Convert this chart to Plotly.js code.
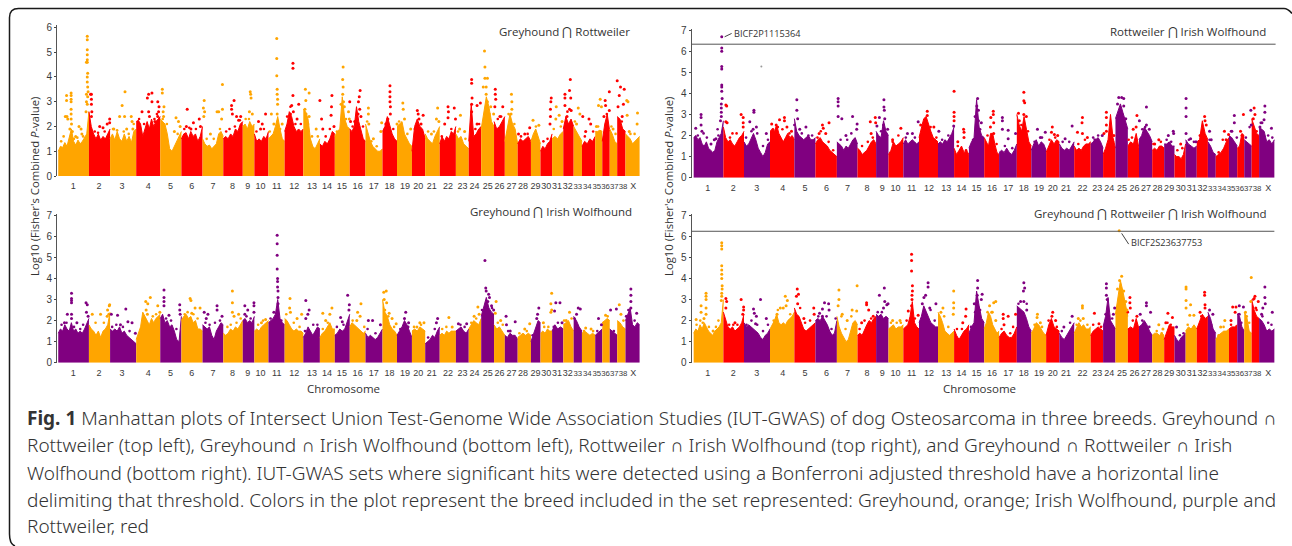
<!DOCTYPE html>
<html><head><meta charset="utf-8">
<script src="https://cdn.plot.ly/plotly-3.0.1.min.js"></script>
<style>html,body{margin:0;padding:0;background:#fff;overflow:hidden}#c{width:1292px;height:546px}</style>
</head><body><div id="c"></div>
<script>
const chromLabels=['1','2','3','4','5','6','7','8','9','10','11','12','13','14','15','16','17','18','19','20','21','22','23','24','25','26','27','28','29','30','31','32','33','34','35','36','37','38','X'];
const edgesL=[140,214,265,328,386,437,488,538,585,613,647,686,731,771,807,843,881,922,957,993,1025,1060,1099,1130,1160,1191,1217,1248,1280,1303,1331,1358,1383,1403,1435,1452,1470,1488,1508,1542];
const edgesR=[118,190,240,303,362,413,465,515,560,590,626,664,710,749,785,822,858,901,936,972,1004,1040,1080,1110,1140,1170,1197,1229,1258,1283,1310,1337,1364,1383,1415,1435,1452,1470,1488,1525];
const labelPosL=[176,238,294,357,411,462,513,560,597,628,667,709,752,788,824,862,901,939,976,1008,1041,1080,1115,1144,1176,1204,1233,1261,1291,1317,1343,1369,1393,1416,1439,1460,1481,1502,1527];
const labelPosR=[152,214,271,334,388,440,491,538,575,607,646,688,730,767,803,841,880,918,955,988,1020,1060,1096,1125,1156,1186,1214,1242,1270,1298,1325,1351,1375,1398,1420,1441,1462,1483,1510];
const envTL=[[1,1.2,1.15,1.35,1.2,1.6,1.9,1.4,1.25,1.45,1.3,1.4,1.55,1.7,2.6],[2.6,2,1.7,1.5,1.7,1.45,1.6,1.5,1.7,1.9],[1.5,1.7,1.45,1.8,1.5,1.4,1.7,1.4,1.6,1.35,1.8,1.9],[2.2,2.25,2.1,1.6,1.9,2.2,1.9,2.3,2,2.2,2.3,2.4],[2.3,2.2,2.1,1.7,1.1,1,1.2,1.4,1.6,1.8],[1.5,1.7,1.75,1.5,1.8,1.6,1.7,1.4,1.6,2],[1.5,1.3,1.2,1.25,1.1,1.2,1.3,1.7,1.8,1.6],[1.5,1.6,1.5,1.7,1.6,1.9,1.8,2.1,2.2],[2,2.1,1.9,2.2,2,2.1],[1.7,1.4,1.5,1.4,1.6,1.5,1.8],[1.5,1.6,1.7,2,2.4,1.9,1.5,1.4],[1.8,2.1,2.6,2.4,2,1.8,1.9,1.8,1.9],[2.7,2.6,2.3,1.5,1.2,1.1,1.3,1.5],[1.3,1.2,1.4,1.3,1.5,1.8,1.7],[1.6,1.8,1.9,3.2,2.3,2,1.9],[1.9,1.8,2,2.8,2.2,1.9,1.5,1.4],[2.1,1.7,1.4,1.2,1.1,1,1,1.1],[1.8,2,2.4,2,1.7,1.5,1.4],[2,2.1,2.2,1.7,1.5,1.3,1.2],[1,2,2.3,2,1.9,1.5],[1.7,1.5,1.4,1.3,1.6,1.8,2],[1.3,1.6,1.4,1.6,1.5,1.8,1.7,2],[1.7,1.5,1.6,1.3,1.2,1.1],[1.4,2.9,1.6,1.7,1.9,2],[1.9,2.5,3.2,2.8,2.2,2],[2.2,1.9,2,2.2,2.4],[1.4,1.9,2.5,2.1,1.9,1.3],[1.3,1.5,1.4,1.5,1.6,1.4],[1.4,1.7,1.9,1.6,1.3],[1,1.2,1.1,1.3,1.4,1.7],[1.5,1.6,1.5,1.7,1.8],[1.9,2.4,2.1,2.3,2],[2,1.8,1.6,1.4],[1.2,1.4,1.3,1.5,1.4,1.6],[1.8,1.8,1.85,1.8],[1.4,2.1,2.5,1.8],[1.9,1.7,1.4,1.3],[2.4,2.3,1.9,1.8],[1.7,1.6,1.5,1.3,1.4,1.5,1.6]];
const envBL=[[1.4,1.6,1.5,1.8,1.6,1.5,1.9,1.5,1.6,1.4,1.5,1.4,1.6,1.9,2.1],[1.8,1.6,1.5,1.3,1.5,1.2,1.5,1.6,1.8,2.4],[1.6,1.5,1.6,1.5,1.7,1.4,1.5,1.3,1.2,1.1,1,.9],[1.1,1.4,1.7,2.4,2.2,2,1.8,2.1,1.9,2.1,2.2,2.3],[2.1,2.3,1.9,2,1.7,1.8,1.5,1.1,1,2.2],[2,2.2,2.3,2.1,2.2,1.9,2,1.6,1.6,1.5],[1.8,1.7,1.6,1.7,1.3,1.1,1.5,1.7,1.9,1.8],[1.4,1.3,1.4,1.6,1.5,1.7,1.6,1.8,2],[2,2.1,1.9,2,1.9,2.2],[1.5,1.6,1.5,1.7,1.8,1.9,2],[1.9,2,2.1,2.3,3,2.1,1.9,1.8],[2.1,2,1.8,1.6,1.5,1.6,1.5,1.5,1.4],[1.2,1.4,1.7,1.5,1.3,1.5,1.7,1.6],[1.2,1.4,1.5,1.7,1.9,1.6,1.6],[1.3,1.4,1.6,1.5,1.6,2,2.3],[1.7,1.9,1.8,1.7,1.6,1.5,1.4,1.5],[1.4,1.2,1.3,1.2,1.1,1.2,1.4,1.6],[3,2.4,2.2,1.8,1.6,1.5,1.3],[1.3,1.5,1.7,2,1.8,1.5,1.2],[1.5,1.6,1.5,1.7,1.6,1.5],[.9,1,1.1,1.3,1.2,1.5,1.7],[1.3,1.4,1.3,1.5,1.4,1.5,1.5,1.5],[1.5,1.6,1.7,1.5,1.4,1.6],[1.6,1.8,2,1.9,1.8,2.1],[2.2,2.7,3.1,2.6,2.4,2.3],[1.8,1.6,1.7,1.5,1.3],[1.3,1.2,1.4,1.3,1.3,1.1],[1.2,1.3,1.4,1.3,1.4,1.3],[1,1.3,1.6,2,1.9],[1.4,1.5,1.4,1.6,1.5,1.5],[1.5,1.8,1.6,1.7,1.6],[1.8,1.9,2,1.7,1.5],[2.2,2,1.7,1.5],[1.4,1.5,1.4,1.3,1.4,1.3],[1.3,1.4,1.5,1.6],[1.9,2,2.1,2],[1.6,1.5,1.4,1.3],[2,1.9,1.7,1.6],[2,2.3,2.6,1.8,1.7,1.9,1.8]];
const envTR=[[1.9,2,1.8,1.9,1.6,1.5,1.7,1.4,1.3,1.2,1.3,1.7,1.9,2.1,2.7],[2.4,1.9,1.7,1.8,1.6,1.5,1.7,1.9,2,2.2],[1.7,1.5,1.6,1.9,2.1,1.8,1.4,1.2,1,1.2,1.6,1.7],[2.2,2.3,2.2,2.5,2.1,1.9,1.7,1.9,2.1,1.9,2,1.8],[2.8,2.2,2,1.9,1.8,1.9,2,1.8,1.8,1.9],[1.6,1.8,1.9,1.7,1.6,1.5,1.3,1.2,1.1,1],[1.7,1.6,1.5,1.3,1.5,1.4,1.6,1.8,1.9,1.6],[1.4,1.3,1.1,1.2,1.3,1.5,1.7,1.8,1.6],[2.2,2,1.9,2.7,2.2,2],[1.1,1.3,1.7,1.5,1.6,1.7,1.9],[1.6,1.8,1.6,1.7,1.8,1.7,1.6,1.7],[1.9,2.3,2.8,2.9,2.5,2.2,1.9,1.8,1.7],[1.6,1.7,1.6,1.8,1.7,1.9,2.1,2.4],[1.4,1.1,1.3,1.5,1.2,1.3,1.1],[1.4,1.7,1.9,3.7,2.4,2,1.9],[1.9,1.7,1.5,2.1,2.1,1.6,1.2,1.1],[1.2,1.3,1.2,1.4,1.2,1.1,1.3,1.6],[3,2.5,2.2,2.9,2.3,1.7,1.5],[1.3,1.6,1.8,1.5,1.7,1.6,1.3],[1.2,1.5,1.8,1.6,1.8,1.7],[1.6,1.4,1.3,1.4,1.3,1.5,1.7],[1.5,1.3,1.4,1.3,1.5,1.6,1.6,1.7],[1.6,1.7,1.8,1.9,1.7,1.4],[1.1,1.4,1.8,3,1.9,1.4],[2.8,3.2,3.5,3.1,2.7,2.3],[1.5,1.7,1.6,2.1,1.4],[1.8,2,2.4,2.2,2,1.7],[1.3,1.4,1.3,1.5,1.5,1.4],[1.6,1.6,1.7,1.5,1.5],[1.1,1,1,.9,1.1,1.6],[1.8,1.6,1.5,1.4,1.5],[1.7,1.8,2.7,2.1,1.8],[1.7,1.5,1.2,1.1],[1,1.1,1.2,1.4,1.7,1.9],[2,1.9,1.7,1.5],[1.4,1.5,2.1,2],[1.8,1.7,1.6,1.5],[2.8,2.4,2.1,2],[2.4,2.3,2.2,1.7,1.8,1.6,1.8]];
const envBR=[[1.4,1.6,1.5,1.8,1.6,1.9,1.7,1.5,1.4,1.3,1.5,1.6,1.7,1.9,3],[2.4,2,1.7,1.6,1.7,1.5,1.6,1.7,1.9,2.3],[1.9,1.7,1.8,1.7,1.6,1.5,1.4,1.2,1.1,1.3,1.4,1.6],[1.6,1.8,2,2.3,1.9,1.8,1.9,1.8,2,2.1,2.2,2.4],[2.6,2.3,2.2,1.9,1.6,1.5,1.6,1.7,1.8,1.9],[2,2.1,2,2.2,2,1.8,1.5,1.3,1.4,2],[2.2,1.7,1.4,1.2,1,1.1,1.5,1.9,2,1.8],[1.3,1.4,1.3,1.6,1.8,2,1.9,2.1,2.2],[2.3,2.2,2.3,2.1,2.2,2.1],[1.6,1.7,1.8,1.6,1.7,1.7,1.8],[1.6,1.7,1.8,2.2,2.9,1.9,1.7,1.6],[1.9,2.2,2.7,2.4,2.1,1.9,1.8,1.7,1.7],[2.4,2.2,1.9,1.5,1.4,1.3,1.4,1.5],[1.6,1.3,1.1,1.3,1.5,1.6,1.8],[1.4,1.7,1.9,3.4,2.7,2.1,1.9],[1.6,1.9,2.4,2.2,1.8,1.6,1.4,1.5],[1.2,1.4,1.5,1.3,1.2,1.2,1.4,1.7],[2.7,2.6,2.5,2.4,2.1,1.7,1.5],[1.4,1.6,1.9,1.8,1.6,1.4,1.3],[1.3,1.8,2.1,1.7,1.6,1.5],[1.4,1.2,1.1,1.3,1.5,1.7,1.9],[1.4,1.7,1.9,1.7,1.8,1.6,1.6,1.7],[1.3,1.5,1.6,1.7,1.6,1.5],[1.7,2.2,3.1,2,1.8,1.6],[2.3,3,3.9,3.4,2.7,2.2],[1.6,1.7,1.6,2.1,1.6],[1.7,1.8,2,1.8,1.5,1.3],[1.3,1.4,1.4,1.3,1.4,1.3],[1.1,1.5,1.8,1.7,1.7],[1.3,1.1,1,1.2,1.3,1.4],[1.5,1.7,1.6,1.8,1.6],[1.6,2,2.3,2.1,2.2],[2.4,2.1,1.6,1.4],[1.1,1.3,1.4,1.5,1.5,1.6],[1.6,1.7,1.7,1.8],[2.3,2.2,1.7,1.5],[2.4,2.2,1.5,1.4],[3,2.5,2.2,2.1],[2.1,2,1.8,1.5,1.6,1.5,1.6]];
const hitsTL=[[157,2.4],[160,3.25],[160,3.05],[161,2.4],[163,2.3],[168,1.9],[171,3.35],[171,3.25],[171,3.1],[171,3],[171,2.7],[171,2.5],[171,2.3],[172,2.1],[174,1.8],[182,1.6],[190,2],[195,1.9],[197,1.7],[207,2.6],[208,3.3],[208,3],[208,4.6],[210,5.65],[210,5.5],[210,5.1],[210,4.9],[210,4.7],[210,4.6],[211,4.15],[210,4],[210,3.8],[211,3.6],[212,3.4],[211,3.2],[210,2.9],[218,3.3],[220,3.3],[220,3.1],[220,2.9],[221,2.6],[220,2.4],[240,2],[248,1.95],[258,2.1],[264,2.3],[264,2.15],[274,1.9],[288,2.4],[294,2.85],[301,3.4],[300,2.4],[305,1.9],[316,2.4],[318,2.2],[320,1.9],[342,2.6],[355,3.15],[358,3.3],[366,3.35],[366,3],[380,3],[383,2.8],[382,2.6],[358,2.6],[360,2.4],[373,2.2],[380,2.4],[391,3.5],[391,3.35],[395,2.8],[393,2.6],[394,2.4],[424,2.35],[430,2.2],[434,2],[420,1.8],[451,2.7],[449,2],[466,2.15],[480,2.3],[483,2],[460,1.9],[490,2.75],[492,3.05],[493,2.6],[491,2.4],[523,2.6],[527,2.6],[536,2.7],[534,2.3],[507,1.7],[536,3.7],[558,2.85],[558,2.7],[564,3.05],[560,2.5],[570,2.4],[580,2.4],[575,2.25],[603,3.4],[604,3.3],[605,3.15],[601,2.6],[608,2.5],[623,2.2],[632,2.1],[640,2.5],[628,1.9],[667,5.55],[667,4.75],[667,4.05],[668,3.5],[668,3.3],[669,3.1],[669,2.9],[668,2.5],[654,2.5],[660,2.1],[680,2.1],[706,4.55],[706,4.35],[706,3.25],[703,2.85],[720,2.9],[707,2.6],[716,2.3],[700,2.5],[736,3.5],[745,3.35],[737,3.05],[735,2.7],[745,2.4],[742,2.1],[762,1.9],[771,3.05],[775,2.3],[800,3.25],[799,2.8],[798,2.45],[778,1.9],[805,2],[827,4.4],[826,3.9],[827,3.6],[826,3.3],[828,3],[822,2.9],[830,2.8],[843,3],[840,2.6],[842,2.3],[845,2.2],[868,3.45],[866,3.2],[864,3],[867,2.7],[863,2.5],[855,2.2],[870,2.4],[888,2.75],[888,2.5],[889,2.1],[900,1.5],[920,2.15],[918,1.8],[940,3.65],[940,3.4],[940,3.2],[940,3],[941,2.8],[941,2.5],[935,2.3],[957,2.1],[930,2.1],[971,2.95],[972,2.7],[975,2.3],[990,1.9],[1006,2.65],[1008,2.5],[1020,2.45],[1010,2.3],[1015,2.1],[1055,2.75],[1052,2.3],[1058,2.2],[1040,1.7],[1080,2.8],[1081,2.6],[1080,2.35],[1095,2.75],[1098,2.3],[1072,2.1],[1110,2.45],[1120,1.8],[1108,1.9],[1137,3.9],[1137,3.75],[1138,3.15],[1137,2.9],[1137,2.6],[1150,2.85],[1158,2.95],[1150,2.1],[1168,5.05],[1169,4.4],[1169,3.95],[1175,3.95],[1165,3.6],[1172,3.6],[1172,3.3],[1175,3],[1183,2.8],[1190,2.5],[1194,3.5],[1194,3.3],[1195,3.1],[1193,2.8],[1212,2.8],[1205,2.4],[1233,3.3],[1234,3],[1234,2.7],[1232,2.5],[1250,1.7],[1265,1.7],[1277,1.95],[1285,2.25],[1299,2.05],[1329,3.15],[1328,3],[1327,2.7],[1327,2.4],[1326,2.1],[1341,2.8],[1348,2.45],[1340,2.3],[1355,2.2],[1362,3.3],[1362,3.15],[1362,2.85],[1375,3.9],[1373,3.45],[1376,3.15],[1373,2.7],[1377,2.65],[1367,2.4],[1394,2.75],[1398,2.5],[1390,2.1],[1405,2.4],[1420,2.3],[1424,2.1],[1412,1.8],[1447,3.1],[1443,2.85],[1450,2.8],[1438,2],[1459,3.05],[1460,2.85],[1469,3.4],[1469,2.65],[1456,2.4],[1478,1.9],[1488,3.85],[1493,3.25],[1496,3.6],[1505,3.5],[1503,2.9],[1490,2.8],[1500,2.4],[1511,3.05],[1514,3],[1512,2.45],[1537,2.55],[1536,2.1],[1517,1.8]];
const hitsBL=[[155,1.9],[162,2.3],[172,3.3],[172,3.05],[172,2.95],[172,2.85],[172,2.3],[172,2.1],[185,1.9],[207,2.85],[210,2.75],[208,2.4],[212,2.2],[222,2.3],[242,2.3],[259,2.5],[264,2.75],[263,2.7],[262,2.3],[258,2.2],[283,2.25],[268,2.3],[303,2.55],[308,1.95],[318,1.9],[290,1.8],[326,1.4],[351,2.9],[356,2.8],[362,3.1],[352,2.5],[380,2.7],[385,2.4],[355,2.3],[395,3.45],[395,3.1],[395,2.9],[395,2.7],[407,2.25],[433,2.75],[433,2.5],[434,2.3],[458,3.05],[460,2.95],[470,2.6],[482,2.6],[462,2.35],[492,2.4],[501,2.3],[523,2.7],[523,2.5],[535,2.2],[497,2.1],[560,3.4],[560,2.85],[560,2.4],[575,2.3],[564,2.2],[590,2.7],[597,2.5],[612,2.85],[612,2.7],[612,2.4],[590,2.3],[640,2.05],[630,1.9],[668,6.05],[668,5.65],[668,5.1],[668,4.45],[669,4],[669,3.85],[669,3.6],[670,3.4],[670,3.1],[670,2.8],[669,2.5],[660,2.4],[660,2],[699,3.05],[698,2.6],[700,2.4],[716,2.1],[727,2.3],[737,2.95],[745,2.5],[742,2.3],[737,2.1],[778,2.35],[800,2.6],[795,2.3],[785,2],[821,2.15],[838,3.2],[842,2.75],[841,2.5],[825,1.95],[870,2.8],[862,2.4],[868,2.2],[860,2],[888,2],[898,2],[917,1.8],[925,3.35],[931,3.4],[926,3],[932,2.85],[938,2.35],[945,2.1],[955,1.85],[978,2.4],[975,2.1],[985,1.9],[1012,1.9],[1022,1.9],[1005,1.7],[1055,2.1],[1052,1.9],[1082,2.15],[1090,1.7],[1105,1.85],[1125,1.85],[1152,2.65],[1143,2.2],[1155,2.3],[1169,4.85],[1171,3.55],[1172,3.4],[1178,3.25],[1180,3.1],[1176,2.9],[1185,2.7],[1190,2.5],[1196,2.9],[1194,2.35],[1207,2],[1220,2.2],[1221,1.8],[1242,1.95],[1230,1.5],[1277,1.85],[1265,1.6],[1299,2.6],[1296,2.3],[1294,2.1],[1330,3.3],[1328,2.8],[1330,2.5],[1328,2.4],[1310,1.9],[1340,2.85],[1350,2.85],[1337,2.45],[1355,1.9],[1373,2.4],[1365,2],[1394,2.6],[1399,2.55],[1390,2.3],[1412,1.65],[1425,1.6],[1443,2.1],[1450,1.8],[1472,2.5],[1460,2.25],[1486,2.55],[1493,2.75],[1497,2.3],[1521,3.5],[1521,3.2],[1521,2.9],[1521,2.6],[1535,2.35],[1510,2.2]];
const hitsTR=[[123,2.35],[136,3],[136,2.85],[136,2.5],[138,2.2],[160,1.6],[168,1.8],[172,1.85],[186,6.68],[186,6.15],[186,6],[186,5.27],[186,5.15],[186,4.4],[186,4.3],[186,4.1],[187,3.75],[185,3.5],[185,3.3],[185,3.1],[185,2.9],[183,2.7],[196,3.45],[198,3.4],[196,2.65],[199,2.6],[233,3],[238,2.85],[238,2.6],[238,2.4],[254,2.65],[264,3.2],[264,3.1],[270,2.4],[262,2.3],[294,2.1],[307,2.55],[318,2.5],[326,2.75],[338,2.85],[338,2.7],[344,2.4],[355,2.2],[368,3.7],[368,3.2],[370,2.8],[390,2.4],[375,2.3],[430,2.5],[432,2.35],[446,2.6],[422,2.1],[438,2.1],[468,3.75],[468,3.6],[468,3.4],[468,2.9],[477,2.8],[503,2.9],[514,2.55],[513,2.3],[487,2],[546,2.65],[548,2.1],[558,2.85],[559,2.6],[562,2.45],[568,2.85],[579,3.7],[579,3.35],[580,3.2],[581,2.8],[578,2.5],[588,2.3],[620,2.35],[600,1.8],[636,2.1],[648,2.1],[662,2.65],[684,3.15],[684,2.95],[700,2.4],[712,2.2],[668,2.5],[749,4.1],[749,3.1],[749,2.9],[749,2.7],[748,2.45],[772,2.3],[773,2.15],[773,1.9],[758,1.7],[806,3.75],[804,3.4],[808,3.2],[800,2.9],[808,2.7],[815,2.6],[844,3.15],[844,3],[838,2.85],[845,2.6],[837,2.4],[845,2.1],[866,2.85],[866,2.7],[880,2.25],[866,2.3],[880,1.85],[898,2.1],[918,4.05],[918,3.65],[920,3.55],[905,3.05],[918,3],[924,2.9],[907,2.7],[951,2.3],[970,2.15],[958,1.9],[987,2.4],[985,2.15],[992,2.05],[1000,2],[1035,2.45],[1018,1.85],[1060,2.85],[1059,2.6],[1048,2.15],[1060,2.1],[1072,1.9],[1108,2],[1090,1.8],[1118,3.1],[1118,2.85],[1118,2.5],[1118,2.2],[1112,2.1],[1136,2],[1148,3.8],[1155,3.8],[1160,3.75],[1145,3.5],[1160,3.4],[1150,3.1],[1165,2.8],[1192,2.95],[1190,2.4],[1183,2.3],[1198,2.7],[1215,3.35],[1215,2.5],[1222,2.3],[1245,1.8],[1235,1.6],[1280,2.2],[1281,2.1],[1268,2],[1311,3.75],[1311,3.3],[1311,2.9],[1311,2.1],[1298,1.6],[1322,1.85],[1335,1.7],[1356,2.9],[1357,2.7],[1360,2.5],[1345,2],[1368,2.2],[1372,1.8],[1404,2.2],[1414,2.05],[1408,1.8],[1428,2.95],[1428,2.6],[1422,2.2],[1450,3],[1443,2.2],[1468,3.2],[1469,2.5],[1476,3.3],[1478,3],[1474,2.8],[1502,3.4],[1502,3.1],[1500,2.75],[1495,2.6],[1518,2.35],[1490,2.4]];
const hitsBR=[[124,2.05],[136,2.7],[136,2.4],[148,3.3],[148,3.15],[148,3],[148,2.6],[148,2.3],[143,2.1],[165,1.5],[186,5.7],[186,5.55],[186,5.4],[186,4.6],[186,4.4],[186,4.2],[186,4],[187,3.65],[187,3.5],[186,3.3],[186,3.15],[185,2.95],[196,3.05],[198,2.9],[196,2.6],[233,3],[239,2.65],[239,2.5],[237,2.3],[218,1.9],[280,3],[263,2.55],[265,2.35],[270,2.2],[294,2.1],[268,1.85],[340,3.15],[345,2.95],[328,2.6],[335,2.6],[342,2.7],[320,2.3],[369,3.5],[372,3.25],[367,3.15],[370,2.8],[409,2.6],[410,2.3],[385,2.1],[435,2.85],[445,2.8],[430,2.55],[446,2.5],[423,2.35],[430,2.2],[470,3.45],[470,3],[468,2.7],[478,2.3],[514,3.65],[502,2.5],[513,2.45],[490,2],[537,2.85],[537,2.75],[542,2.5],[525,1.9],[553,2.2],[568,3.2],[580,3.55],[581,2.9],[586,2.75],[578,2.6],[589,2.8],[600,2],[618,2],[646,5.15],[646,4.85],[646,4.35],[648,3.65],[648,3.4],[647,3.2],[647,3],[646,2.7],[638,2.45],[662,2.25],[686,3.8],[686,3.6],[680,3.2],[676,3.1],[672,2.8],[705,2.8],[690,2.6],[748,3.4],[748,2.85],[748,2.6],[722,2.6],[717,2.4],[747,2.3],[778,2.55],[777,2.2],[770,1.9],[806,3.9],[806,3.55],[805,3.2],[817,3.25],[815,3],[798,2.8],[808,2.6],[835,2.7],[845,2.85],[850,2.9],[840,2.4],[850,2],[868,2.3],[880,2.2],[868,2.1],[898,2.3],[870,1.8],[918,3.8],[920,3.55],[917,3.4],[910,2.9],[918,2.9],[925,2.5],[951,2.3],[950,2.15],[958,1.9],[988,2.4],[986,2.2],[995,2],[1035,2.2],[1015,1.7],[1060,2.7],[1060,2.6],[1050,2.1],[1062,2.1],[1089,2.35],[1100,1.85],[1118,3.75],[1118,3.55],[1118,3.2],[1120,3],[1138,2.6],[1135,2.3],[1149,6.27],[1155,4.1],[1150,3.9],[1145,3.5],[1160,3.4],[1165,2.9],[1168,2.5],[1175,3.1],[1175,2.85],[1176,2.6],[1192,2.2],[1215,2.85],[1215,2.7],[1225,2.4],[1200,2.3],[1245,1.8],[1255,1.6],[1267,2.35],[1278,2.15],[1262,1.9],[1311,3.6],[1311,3.5],[1311,2.95],[1311,2.6],[1288,1.7],[1322,2.75],[1320,2.25],[1330,2.25],[1356,3.35],[1356,3.2],[1357,2.75],[1357,2.6],[1345,2.4],[1368,2.5],[1376,2.3],[1405,2],[1395,1.7],[1424,2.65],[1432,2.65],[1430,2.4],[1420,2],[1440,2.7],[1450,2.65],[1440,2.3],[1469,4.05],[1468,2.9],[1455,2.4],[1478,3.15],[1476,3.05],[1486,2.9],[1480,2.6],[1502,3.6],[1502,3.1],[1503,2.8],[1497,2.6],[1520,2.4],[1494,2.3]];
const fringeTL=[[147,1.4],[153,1.6],[178,1.5],[186,1.55],[200,1.6],[228,1.8],[236,1.75],[252,1.8],[272,1.9],[282,1.85],[298,1.8],[310,1.7],[322,2.1],[335,2.3],[347,2.1],[372,2.3],[378,2.5],[392,2.3],[402,2.1],[428,1.7],[444,1.9],[456,1.95],[472,1.9],[498,1.5],[515,1.5],[530,1.9],[545,1.8],[553,1.9],[566,2],[578,2.25],[592,2.3],[600,2.3],[618,1.8],[636,1.9],[650,1.8],[675,1.9],[692,2.4],[700,2.8],[712,2.1],[725,2.1],[738,2.5],[752,1.6],[766,1.6],[785,1.6],[795,1.9],[812,1.8],[834,2.3],[850,2],[875,2],[885,2.2],[895,1.4],[908,1.2],[928,1.9],[948,1.9],[962,2.2],[982,1.7],[1000,1.9],[1032,1.8],[1046,1.8],[1065,1.6],[1088,1.9],[1104,1.8],[1122,1.5],[1146,1.9],[1155,2.1],[1180,2.5],[1200,2.3],[1208,2.4],[1226,2.5],[1240,2.1],[1256,1.6],[1272,1.7],[1292,2],[1310,1.4],[1320,1.5],[1335,1.9],[1352,2],[1368,2.6],[1386,2.2],[1410,1.6],[1430,1.8],[1442,2],[1463,2.5],[1474,2],[1484,1.7],[1499,2.2],[1520,1.7],[1530,1.7]];
const fringeBL=[[148,1.8],[160,1.9],[178,1.7],[193,1.6],[200,1.8],[230,1.9],[250,1.9],[270,1.7],[280,1.8],[296,1.7],[312,1.5],[340,1.6],[348,2.1],[368,2.2],[376,2.3],[400,2.1],[412,2],[425,1.6],[445,2.3],[452,2.4],[466,2.3],[476,2.1],[495,1.9],[505,1.8],[518,1.9],[530,2],[548,1.7],[556,1.8],[570,1.9],[580,2.1],[594,2.2],[604,2.1],[622,1.8],[634,2],[652,2.1],[678,2],[690,2.3],[708,1.9],[722,1.7],[735,1.5],[755,1.8],[765,1.8],[778,1.6],[790,1.9],[812,1.7],[828,1.8],[850,2],[878,1.7],[886,1.6],[905,1.4],[928,2.5],[936,2.2],[950,1.7],[965,1.6],[984,1.7],[998,1.7],[1015,1.8],[1032,1.2],[1048,1.6],[1066,1.6],[1076,1.7],[1110,1.8],[1120,1.7],[1136,1.9],[1148,2.1],[1162,2.5],[1186,2.6],[1200,1.9],[1212,1.8],[1225,1.5],[1252,1.4],[1270,1.5],[1284,1.3],[1312,1.7],[1322,1.7],[1335,1.7],[1345,1.9],[1360,2],[1378,2.1],[1385,2.1],[1408,1.5],[1430,1.5],[1440,1.5],[1455,1.9],[1465,2.2],[1480,1.5],[1503,2],[1515,2.5],[1530,2]];
const fringeTR=[[128,2],[142,2.1],[150,1.9],[178,2],[176,2.3],[206,1.9],[212,2.1],[222,2.1],[245,1.9],[258,2.2],[272,2.1],[286,1.5],[298,1.8],[310,2.3],[322,2.4],[333,2.3],[350,2.1],[362,2.5],[380,2.1],[396,2],[405,2],[418,1.9],[426,2.2],[445,1.7],[456,1.3],[474,1.8],[490,1.8],[500,2.1],[526,1.5],[540,1.7],[552,1.9],[572,2.2],[584,2.1],[600,1.7],[614,2],[632,1.9],[654,1.9],[676,2.6],[692,2.4],[706,1.9],[720,1.8],[735,2],[758,1.5],[778,1.3],[795,1.8],[812,2.3],[830,2],[852,1.6],[872,1.5],[890,1.4],[912,2.5],[928,2.2],[944,1.7],[962,1.9],[980,1.8],[994,1.9],[1012,1.7],[1028,1.7],[1050,1.6],[1066,1.8],[1086,1.9],[1098,2],[1128,2],[1134,1.7],[1172,1.8],[1180,1.9],[1205,2.3],[1212,2.4],[1232,1.6],[1250,1.7],[1264,1.8],[1275,1.7],[1290,1.3],[1302,1.4],[1318,1.8],[1330,1.7],[1348,2],[1368,1.8],[1390,1.2],[1400,1.8],[1420,2.2],[1434,1.9],[1446,2],[1456,1.9],[1465,2.4],[1482,2.2],[1492,2.6],[1510,2],[1520,1.9]];
const fringeBR=[[125,1.8],[134,2],[140,1.9],[155,1.7],[172,1.7],[178,2],[204,1.8],[214,1.8],[224,1.8],[246,1.8],[258,2],[272,1.8],[286,1.5],[298,1.8],[312,2],[322,2.5],[352,2.3],[376,2.6],[388,1.9],[400,2],[420,2.2],[440,2.2],[452,1.6],[462,2.1],[476,2.2],[486,1.6],[500,2.2],[520,1.6],[532,2],[548,2.1],[564,2.4],[574,2.4],[596,1.9],[610,1.9],[620,1.9],[634,2],[654,2.1],[676,2.4],[692,2.5],[702,2],[725,2.2],[735,1.7],[756,1.6],[768,1.6],[790,1.7],[800,2.4],[812,2.5],[830,2.4],[842,2.4],[864,1.6],[885,1.4],[892,1.7],[905,2.8],[925,2.8],[944,1.8],[962,1.7],[978,2],[998,1.7],[1010,1.5],[1030,1.9],[1046,1.8],[1055,2],[1072,1.8],[1086,1.8],[1105,1.7],[1116,2.3],[1132,2.1],[1142,2.6],[1170,2.4],[1182,2],[1205,2],[1222,1.7],[1240,1.5],[1252,1.4],[1266,1.9],[1274,1.8],[1296,1.3],[1305,1.4],[1315,1.8],[1330,1.7],[1348,2.2],[1372,1.8],[1390,1.3],[1402,1.7],[1420,1.8],[1438,2.3],[1445,1.9],[1458,2.2],[1464,1.9],[1474,3],[1482,2.5],[1496,2.2],[1510,1.9],[1518,1.8]];
const strayTR=[[282,5.27]];
const ORANGE='#FFA500',RED='#FF0000',PURPLE='#800080';
const W=1292,H=546;
const panels=[
 {env:envTL,hits:hitsTL,fringe:fringeTL,edges:edgesL,labelPos:labelPosL,cyc:[ORANGE,RED],px:[57,640],py:[25,176],yr:[0,6.1],xr:[137,1543],s:''},
 {env:envBL,hits:hitsBL,fringe:fringeBL,edges:edgesL,labelPos:labelPosL,cyc:[PURPLE,ORANGE],px:[57,640],py:[214,362.7],yr:[0,7.06],xr:[137,1543],s:'2'},
 {env:envTR,hits:hitsTR,fringe:fringeTR,edges:edgesR,labelPos:labelPosR,cyc:[PURPLE,RED],px:[691.6,1275.6],py:[29,177.7],yr:[0,7.05],xr:[113,1528],s:'3'},
 {env:envBR,hits:hitsBR,fringe:fringeBR,edges:edgesR,labelPos:labelPosR,cyc:[ORANGE,RED,PURPLE],px:[691.6,1275.6],py:[214,362.7],yr:[0,7.06],xr:[113,1528],s:'4'}
];
const data=[],layout={width:W,height:H,margin:{l:0,r:0,t:0,b:0},paper_bgcolor:'#fff',plot_bgcolor:'#fff',showlegend:false,shapes:[],annotations:[]};
const sans='"Liberation Sans",Arial,sans-serif';
const tickFont={family:sans,size:10,color:'#3a3a3a'};
// labels 33-38 sit tightly packed in the reference, so they are set smaller
const tickTexts=chromLabels.map(function(t,i){return (i>=32&&i<=37)?'<span style="font-size:7.8px">'+t+'</span>':t;});
panels.forEach(function(p){
 const xa='x'+p.s,ya='y'+p.s;
 const colorAt=function(x){let k=0;while(k<p.edges.length-2&&x>=p.edges[k+1])k++;return p.cyc[k%p.cyc.length];};
 p.env.forEach(function(vals,i){
  const a=p.edges[i],b=p.edges[i+1],n=vals.length,c=p.cyc[i%p.cyc.length];
  data.push({type:'scatter',mode:'lines',xaxis:xa,yaxis:ya,fill:'tozeroy',hoverinfo:'skip',
   x:vals.map(function(_,k){return a+(b-a)*k/(n-1);}),y:vals,fillcolor:c,line:{color:c,width:1}});
 });
 [[p.fringe,2.6],[p.hits,3]].forEach(function(d){
  data.push({type:'scatter',mode:'markers',xaxis:xa,yaxis:ya,cliponaxis:false,
   x:d[0].map(function(h){return h[0];}),y:d[0].map(function(h){return h[1];}),
   marker:{size:d[1],color:d[0].map(function(h){return colorAt(h[0]);})}});
 });
 layout['xaxis'+p.s]={domain:[p.px[0]/W,p.px[1]/W],range:p.xr,anchor:ya,tickvals:p.labelPos,ticktext:tickTexts,tickangle:0,ticks:'',showgrid:false,zeroline:false,showline:false,tickfont:{family:sans,size:9,color:'#3a3a3a'},ticklabelstandoff:3,automargin:false};
 layout['yaxis'+p.s]={domain:[1-p.py[1]/H,1-p.py[0]/H],range:p.yr,anchor:xa,tickvals:[0,1,2,3,4,5,6,7].filter(function(v){return v<=p.yr[1];}),ticks:'outside',ticklen:2,tickcolor:'#444',showline:true,linecolor:'#555',linewidth:1,showgrid:false,zeroline:false,tickfont:tickFont,automargin:false};
});
data.push({type:'scatter',mode:'markers',xaxis:'x3',yaxis:'y3',x:strayTR.map(function(h){return h[0];}),y:strayTR.map(function(h){return h[1];}),marker:{size:2,color:'#999'}});
layout.shapes.push(
 {type:'line',xref:'x3',yref:'y3',x0:113,x1:1530,y0:6.33,y1:6.33,line:{color:'#555',width:1}},
 {type:'line',xref:'x4',yref:'y4',x0:113,x1:1525,y0:6.24,y1:6.24,line:{color:'#555',width:1}},
 {type:'line',xref:'x3',yref:'y3',x0:193,x1:210,y0:6.68,y1:6.84,line:{color:'#444',width:1}},
 {type:'line',xref:'x4',yref:'y4',x0:1155,x1:1172,y0:6.14,y1:5.63,line:{color:'#444',width:1}},
 {type:'path',xref:'paper',yref:'paper',path:(function(){
   const X=function(v){return (v/W).toFixed(5);},Y=function(v){return (1-v/H).toFixed(5);};
   const l=9.5,t=8.5,r=1292,c=9;
   return 'M '+X(15)+' '+Y(546)+' Q '+X(l)+' '+Y(544)+' '+X(l)+' '+Y(534)+' L '+X(l)+' '+Y(t+c)+' Q '+X(l)+' '+Y(t)+' '+X(l+c)+' '+Y(t)+' L '+X(1284)+' '+Y(t)+' Q '+X(1288)+' '+Y(t)+' '+X(r)+' '+Y(t+5);
 })(),line:{color:'#1a1a1a',width:1.5}}
);
function pa(text,x,y,anchor,size,extra){
 return Object.assign({xref:'paper',yref:'paper',x:x/W,y:1-y/H,text:text,showarrow:false,xanchor:anchor,yanchor:'middle',align:anchor,font:{family:'"Open Sans",sans-serif',size:size,color:'#333'}},extra||{});
}
const titleSize=11.5;
layout.annotations.push(
 pa('Greyhound ⋂ Rottweiler',632,31,'right',titleSize),
 pa('Greyhound ⋂ Irish Wolfhound',634,212,'right',titleSize),
 pa('Rottweiler ⋂ Irish Wolfhound',1268,31,'right',titleSize),
 pa('Greyhound ⋂ Rottweiler ⋂ Irish Wolfhound',1269,214,'right',titleSize),
 pa("Log10 (Fisher's Combined <i>P</i>-value)",34,187,'center',11.3,{textangle:-90}),
 pa("Log10 (Fisher's Combined <i>P</i>-value)",668,187,'center',11.3,{textangle:-90}),
 pa('Chromosome',343,388,'center',11.5),
 pa('Chromosome',979,388,'center',11.5),
 {xref:'x3',yref:'y3',x:210,y:6.84,text:'BICF2P1115364',showarrow:false,xanchor:'left',yanchor:'middle',font:{family:'"Open Sans",sans-serif',size:9.2,color:'#333'}},
 {xref:'x4',yref:'y4',x:1172,y:5.7,text:'BICF2S23637753',showarrow:false,xanchor:'left',yanchor:'middle',font:{family:'"Open Sans",sans-serif',size:9.2,color:'#333'}}
);
const captionLines=['<b>Fig. 1</b> Manhattan plots of Intersect Union Test-Genome Wide Association Studies (IUT-GWAS) of dog Osteosarcoma in three breeds. Greyhound ∩',
'Rottweiler (top left), Greyhound ∩ Irish Wolfhound (bottom left), Rottweiler ∩ Irish Wolfhound (top right), and Greyhound ∩ Rottweiler ∩ Irish',
'Wolfhound (bottom right). IUT-GWAS sets where significant hits were detected using a Bonferroni adjusted threshold have a horizontal line',
'delimiting that threshold. Colors in the plot represent the breed included in the set represented: Greyhound, orange; Irish Wolfhound, purple and',
'Rottweiler, red'];
const captionY=[418,445,473,500,526];
captionLines.forEach(function(t,i){layout.annotations.push(pa(t,24.5,captionY[i],'left',19,{font:{family:'"Noto Sans","Open Sans",sans-serif',size:19,color:'#333',weight:300}}));});
Plotly.newPlot('c',data,layout,{displayModeBar:false,staticPlot:true});
</script></body></html>
